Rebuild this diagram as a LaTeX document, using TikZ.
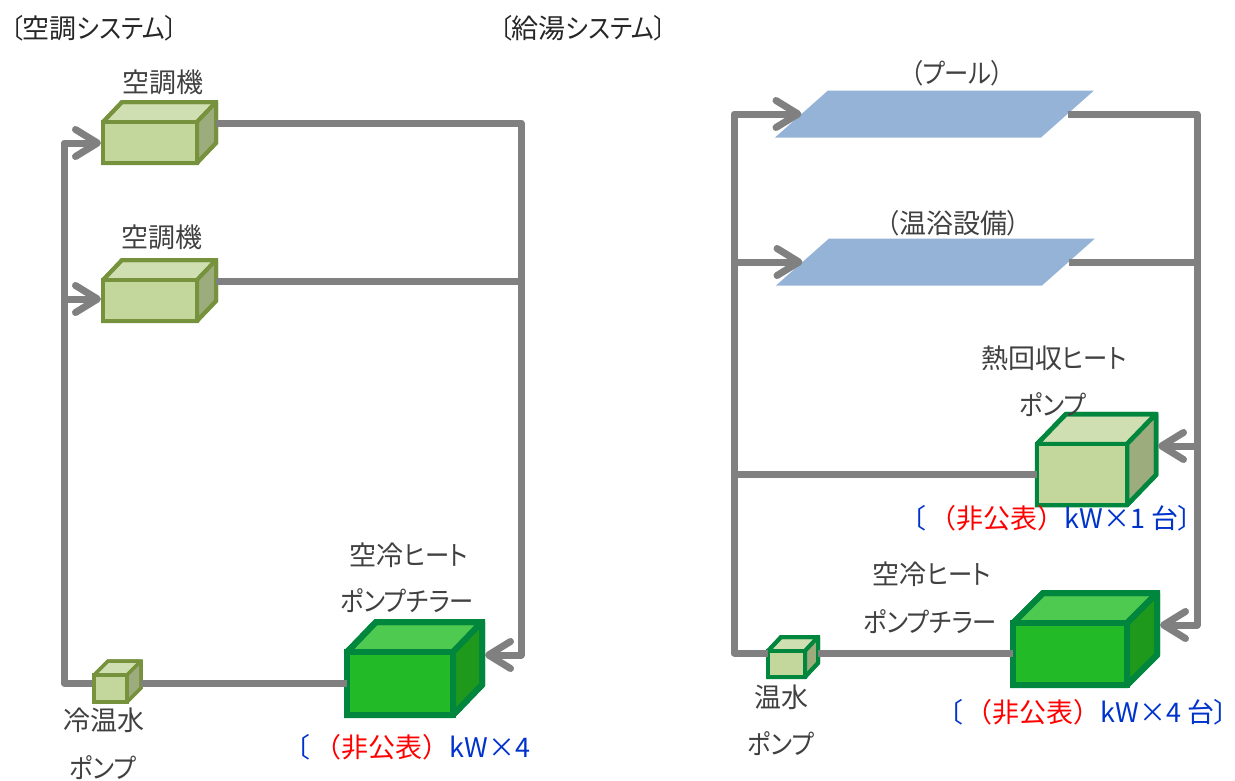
\documentclass[tikz,border=0pt]{standalone}
\usepackage{fontspec}
\setmainfont{Noto Sans CJK JP}
\newfontfamily\pk[RawFeature=+palt,FakeStretch=0.9]{Noto Sans CJK JP}
\newfontfamily\pkb[RawFeature=+palt]{Noto Sans CJK JP}
\usetikzlibrary{arrows.meta,calc}
\definecolor{pipeg}{HTML}{808080}
\definecolor{olivel}{HTML}{76923C}
\definecolor{greenl}{HTML}{00863D}
\definecolor{frontp}{HTML}{C3D69B}
\definecolor{topp}{HTML}{D0DFB1}
\definecolor{sidep}{HTML}{9DAC7C}
\definecolor{frontg}{HTML}{22BA26}
\definecolor{topg}{HTML}{4FCA50}
\definecolor{sideg}{HTML}{1F991C}
\definecolor{poolc}{HTML}{95B3D7}
\definecolor{labelc}{HTML}{404040}
\definecolor{bluet}{HTML}{0033CC}
\tikzset{
  pipe/.style={draw=pipeg,line width=7pt,line join=round},
  barb/.style={-{Straight Barb[length=22pt,width=27pt,line width=7pt,round]}},
  lab/.style={font=\pk\fontsize{27}{30}\selectfont,text=labelc,inner sep=0pt},
  ttl/.style={font=\pk\fontsize{27}{30}\selectfont,text=black!85,inner sep=0pt},
  note/.style={font=\fontsize{27}{30}\selectfont,text=bluet,inner sep=0pt,anchor=west},
  pool/.style={fill=poolc,inner sep=0pt,outer sep=0pt,minimum width=266pt,minimum height=47pt,xslant=1.128,transform shape},
}
% name, x0, y0, x1, y1, dx, dy, line colour, line width, front, top, side
\newcommand{\boxcube}[9]{%
  \pgfmathsetmacro{\cubew}{#4-#2}\pgfmathsetmacro{\cubeh}{#5-#3}%
  \pgfmathsetmacro{\cubex}{(#4+#2)/2}\pgfmathsetmacro{\cubey}{(#5+#3)/2}%
  \cubecolors{#1}{#6}{#7}{#8}{#9}}
\newcommand{\cubecolors}[5]{%
  \def\cubename{#1}\def\cubedx{#2}\def\cubedy{#3}\def\cubeline{#4}\def\cubelw{#5}\cubefills}
\newcommand{\cubefills}[3]{%
  \draw[draw=\cubeline,line width=\cubelw pt,fill=#2,line join=bevel] (\cubex-\cubew/2,\cubey-\cubeh/2) -- ++(\cubedx,-\cubedy) -- ++(\cubew,0) -- (\cubex+\cubew/2,\cubey-\cubeh/2) -- cycle;
  \draw[draw=\cubeline,line width=\cubelw pt,fill=#3,line join=bevel] (\cubex+\cubew/2,\cubey-\cubeh/2) -- ++(\cubedx,-\cubedy) -- ++(0,\cubeh) -- (\cubex+\cubew/2,\cubey+\cubeh/2) -- cycle;
  \draw[draw=\cubeline,line width=\cubelw pt,line join=miter] (\cubex-\cubew/2,\cubey-\cubeh/2) -- ++(\cubedx,-\cubedy) -- ++(\cubew,0) -- ++(0,\cubeh) -- (\cubex+\cubew/2,\cubey+\cubeh/2) -- (\cubex-\cubew/2,\cubey+\cubeh/2) -- cycle;
  \node[draw=\cubeline,line width=\cubelw pt,fill=#1,line join=miter,minimum width=\cubew pt,minimum height=\cubeh pt,inner sep=0pt,outer sep=0pt] (\cubename) at (\cubex,\cubey) {};
}
\newcommand{\br}[1]{{\normalfont #1}}
\newcommand{\opn}[1]{{\pkb 〔}\kern#1pt}
\newcommand{\cls}{{\pkb 〕}}
\begin{document}
\begin{tikzpicture}[x=1pt,y=-1pt]
\useasboundingbox (0,0) rectangle (1235,780);
% left system
\boxcube{acA}{103}{122}{197}{163}{19}{20}{olivel}{4}{frontp}{topp}{sidep}
\boxcube{acB}{103}{280}{197}{321}{19}{20}{olivel}{4}{frontp}{topp}{sidep}
\boxcube{pumpL}{94}{675}{127}{702}{14}{14}{olivel}{3.5}{frontp}{topp}{sidep}
\boxcube{chillL}{347}{652}{453}{715}{29}{30}{greenl}{6}{frontg}{topg}{sideg}
\coordinate (acAout) at (216,123);
\coordinate (acBout) at (216,281);
\coordinate (busRT) at (521,123);
\coordinate (busRB) at (521,655);
\coordinate (busRM) at (521,281);
\coordinate (chillLin) at (485,655);
\coordinate (pumpLout) at (141,683);
\coordinate (busLB) at (64,683);
\coordinate (busLT) at (64,143);
\coordinate (busLM) at (64,299);
\coordinate (acAin) at (101,143);
\coordinate (acBin) at (101,299);
\coordinate (pumpLin) at (92,683);
\draw[pipe,barb] (acAout) -- (busRT) -- (busRB) -- (chillLin);
\draw[pipe] (acBout) -- (busRM);
\draw[pipe,barb] (pumpLin) -- (busLB) -- (busLT) -- (acAin);
\draw[pipe,barb] (busLM) -- (acBin);
\draw[pipe] (pumpLout) -- (chillL.west |- pumpLout);
% right system
\node[pool] (poolA) at (934.5,114) {};
\node[pool] (poolB) at (935.5,262) {};
\boxcube{hrp}{1037}{444}{1127}{505}{29}{30}{greenl}{4.5}{frontp}{topp}{sidep}
\boxcube{chillR}{1013}{623}{1127}{685}{30}{30}{greenl}{6}{frontg}{topg}{sideg}
\boxcube{pumpR}{768}{651}{805}{677}{13}{14}{greenl}{4}{frontp}{topp}{sidep}
\coordinate (lbT) at (734,114);
\coordinate (lbM) at (731,262);
\coordinate (lbH) at (731,474);
\coordinate (lbB) at (734,653);
\coordinate (rbT) at (1197,114);
\coordinate (rbM) at (1200,262);
\coordinate (rbH) at (1197,446);
\coordinate (rbB) at (1197,625);
\coordinate (hrpin) at (1158,446);
\coordinate (chillRin) at (1160,625);
\coordinate (pumpRout) at (818,653);
\draw[pipe,barb] (pumpR.west |- lbB) -- (lbB) -- (lbT) -- (poolA.west);
\draw[pipe,barb] (lbM) -- (poolB.west);
\draw[pipe] (lbH) -- (hrp.west |- lbH);
\draw[pipe,barb] (poolA.east) -- (rbT) -- (rbB) -- (chillRin);
\draw[pipe] (poolB.east) -- (rbM);
\draw[pipe,barb] (rbH) -- (hrpin);
\draw[pipe] (pumpRout) -- (chillR.west |- pumpRout);
% labels
\node[ttl] (tL) at (94,28) {〔\br{空調}システム〕};
\node[ttl] (tR) at (583,28) {〔\br{給湯}システム〕};
\node[lab] (lA) at (163,82) {\br{空調機}};
\node[lab] (lB) at (162,237) {\br{空調機}};
\node[lab] (lC1) at (409,555) {\br{空冷}ヒート};
\node[lab] (lC2) at (407,601) {ポンプチラー};
\node[lab] (lP1) at (104,720) {\br{冷温水}};
\node[lab] (lP2) at (103,768) {ポンプ};
\node[note] (nL) at (296,747) {\opn{5}\textcolor{red}{（非公表）}kW×4};
\node[lab] (lpA) at (957,73) {（プール）};
\node[lab] (lpB) at (953,223) {（\br{温浴設備}）};
\node[lab] (lH1) at (1054,358) {\br{熱回収}ヒート};
\node[lab] (lH2) at (1053,405) {ポンプ};
\node[note] (nH) at (912,518) {\opn{4}\textcolor{red}{（非公表）}kW×1 台\cls};
\node[lab] (lD1) at (932,574) {\br{空冷}ヒート};
\node[lab] (lD2) at (930,622) {ポンプチラー};
\node[lab] (lQ1) at (781,697) {\br{温水}};
\node[lab] (lQ2) at (781,744) {ポンプ};
\node[note] (nR) at (949,712) {\opn{3}\textcolor{red}{（非公表）}kW×4 台\cls};
\end{tikzpicture}
\end{document}
